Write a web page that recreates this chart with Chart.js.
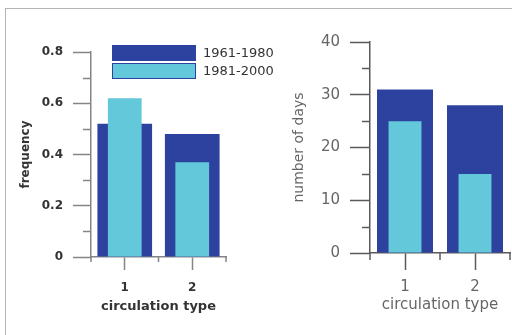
<!DOCTYPE html>
<html>
<head>
<meta charset="utf-8">
<script src="https://cdn.jsdelivr.net/npm/chart.js@4.4.1/dist/chart.umd.min.js"></script>
<style>
  html, body { margin: 0; padding: 0; background: #ffffff; }
  #wrap { position: relative; width: 512px; height: 335px; overflow: hidden; background: #fff; }
  #frame { position: absolute; left: 5px; top: 8px; width: 520px; height: 340px;
           border-left: 1.5px solid #b4b4b4; border-top: 1.5px solid #b4b4b4; }
  canvas { position: absolute; top: 0; }
</style>
</head>
<body>
<div id="wrap">
  <div id="frame"></div>
  <div style="position:absolute;left:0;top:0;width:300px;height:335px;"><canvas id="c1"></canvas></div>
  <div style="position:absolute;left:256px;top:0;width:256px;height:335px;"><canvas id="c2"></canvas></div>
</div>
<script>
// ---- data ----
const categories = ['1', '2'];
const seriesNames = ['1961-1980', '1981-2000'];
const freq1961_1980 = [0.52, 0.48];
const freq1981_2000 = [0.62, 0.37];
const days1961_1980 = [31, 28];
const days1981_2000 = [25, 15];
const freqTicks = { min: 0, max: 0.8, step: 0.2 };
const daysTicks = { min: 0, max: 40, step: 10 };
const xTitle = 'circulation type';
const yTitleLeft = 'frequency';
const yTitleRight = 'number of days';

const DARK = '#2d429e';
const LIGHT = '#63c9da';

function extraTicks(opts) {
  return {
    id: 'extraTicks',
    afterDraw(chart) {
      const ctx = chart.ctx, ca = chart.chartArea;
      const ys = chart.scales.y, xs = chart.scales.x;
      ctx.save();
      ctx.strokeStyle = opts.color;
      ctx.lineWidth = 1.5;
      // minor y ticks at half steps
      for (let v = ys.min + opts.step / 2; v < ys.max; v += opts.step) {
        const py = Math.round(ys.getPixelForValue(v)) + 0.5;
        ctx.beginPath();
        ctx.moveTo(ca.left - opts.yMinor, py);
        ctx.lineTo(ca.left, py);
        ctx.stroke();
      }
      // category boundary ticks on x
      const n = xs.ticks.length;
      const bounds = [ca.left];
      for (let i = 0; i < n - 1; i++) {
        bounds.push((xs.getPixelForValue(i) + xs.getPixelForValue(i + 1)) / 2);
      }
      bounds.push(ca.right);
      bounds.forEach(bx => {
        ctx.beginPath();
        ctx.moveTo(bx, ca.bottom);
        ctx.lineTo(bx, ca.bottom + opts.xMinor);
        ctx.stroke();
      });
      ctx.restore();
    }
  };
}

const legendPlugin = {
  id: 'boxLegend',
  afterDraw(chart) {
    const ctx = chart.ctx;
    const colors = [DARK, LIGHT];
    ctx.save();
    seriesNames.forEach((name, i) => {
      const y = 45 + i * 18;
      ctx.fillStyle = colors[i];
      ctx.fillRect(112, y, 84, 16);
      if (i === 1) {
        ctx.strokeStyle = DARK;
        ctx.lineWidth = 1;
        ctx.strokeRect(112.5, y + 0.5, 83, 15);
      }
      ctx.fillStyle = '#333';
      ctx.font = '13px "DejaVu Sans"';
      ctx.textBaseline = 'middle';
      ctx.textAlign = 'left';
      ctx.fillText(name, 203, y + 8.5);
    });
    ctx.restore();
  }
};

function makeChart(id, cfg) {
  const cv = document.getElementById(id);
  return new Chart(cv, {
    type: 'bar',
    data: {
      labels: categories,
      datasets: [
        { label: seriesNames[0], data: cfg.d1, backgroundColor: DARK, borderWidth: 0,
          barPercentage: cfg.bp1, categoryPercentage: 1, grouped: false, order: 2 },
        { label: seriesNames[1], data: cfg.d2, backgroundColor: LIGHT, borderWidth: 0,
          barPercentage: cfg.bp2, categoryPercentage: 1, grouped: false, order: 1 }
      ]
    },
    options: {
      responsive: true,
      maintainAspectRatio: false,
      animation: false,
      devicePixelRatio: 1,
      layout: { padding: { left: 0, right: cfg.padRight, top: cfg.top, bottom: 0 } },
      plugins: { legend: { display: false }, tooltip: { enabled: false } },
      scales: {
        x: {
          offset: true,
          grid: { display: true, drawOnChartArea: false, offset: false, drawTicks: true,
                  tickLength: cfg.xTick, tickColor: cfg.tickColor, tickWidth: 1.5 },
          border: { display: true, color: cfg.tickColor, width: 1.5 },
          ticks: { color: cfg.labelColor, font: cfg.xTickFont, padding: cfg.xTickPad, maxRotation: 0 },
          title: { display: true, text: xTitle, color: cfg.labelColor, font: cfg.xTitleFont,
                   padding: { top: 0, bottom: cfg.xTitlePad } },
          afterFit: s => { s.height = cfg.xHeight; }
        },
        y: {
          min: cfg.ticks.min, max: cfg.ticks.max,
          grid: { display: true, drawOnChartArea: false, drawTicks: true,
                  tickLength: cfg.yTick, tickColor: cfg.tickColor, tickWidth: 1.5 },
          border: { display: true, color: cfg.tickColor, width: 1.5 },
          ticks: { stepSize: cfg.ticks.step, color: cfg.labelColor, font: cfg.yTickFont, padding: cfg.yTickPad },
          title: { display: true, text: cfg.yTitle, color: cfg.labelColor, font: cfg.yTitleFont,
                   padding: { top: cfg.yTitlePad, bottom: 0 } },
          afterFit: s => { s.width = cfg.yWidth; }
        }
      }
    },
    plugins: cfg.plugins
  });
}

makeChart('c1', {
  d1: freq1961_1980, d2: freq1981_2000, bp1: 0.81, bp2: 0.5,
  ticks: freqTicks, yTitle: yTitleLeft,
  top: 52, padRight: 74, yWidth: 91, xHeight: 78,
  xTick: 13, yTick: 18,
  tickColor: '#858585', labelColor: '#333',
  xTickFont: { family: 'DejaVu Sans', size: 12, weight: 'bold' }, xTickPad: 11,
  xTitleFont: { family: 'DejaVu Sans', size: 13, weight: 'bold' }, xTitlePad: 21,
  yTickFont: { family: 'DejaVu Sans', size: 12, weight: 'bold' }, yTickPad: 10,
  yTitleFont: { family: 'DejaVu Sans', size: 12, weight: 'bold' }, yTitlePad: 18.8,
  plugins: [extraTicks({ color: '#858585', step: 0.2, yMinor: 8, xMinor: 5 }), legendPlugin]
});

makeChart('c2', {
  d1: days1961_1980, d2: days1981_2000, bp1: 0.8, bp2: 0.47,
  ticks: daysTicks, yTitle: yTitleRight,
  top: 42, padRight: 2, yWidth: 114, xHeight: 82,
  xTick: 17, yTick: 20,
  tickColor: '#5a5a5a', labelColor: '#666',
  xTickFont: { family: 'DejaVu Sans', size: 15 }, xTickPad: 8,
  xTitleFont: { family: 'DejaVu Sans', size: 15 }, xTitlePad: 21,
  yTickFont: { family: 'DejaVu Sans', size: 15 }, yTickPad: 10,
  yTitleFont: { family: 'DejaVu Sans', size: 14 }, yTitlePad: 34.6,
  plugins: [extraTicks({ color: '#5a5a5a', step: 10, yMinor: 8, xMinor: 7 })]
});
</script>
</body>
</html>
